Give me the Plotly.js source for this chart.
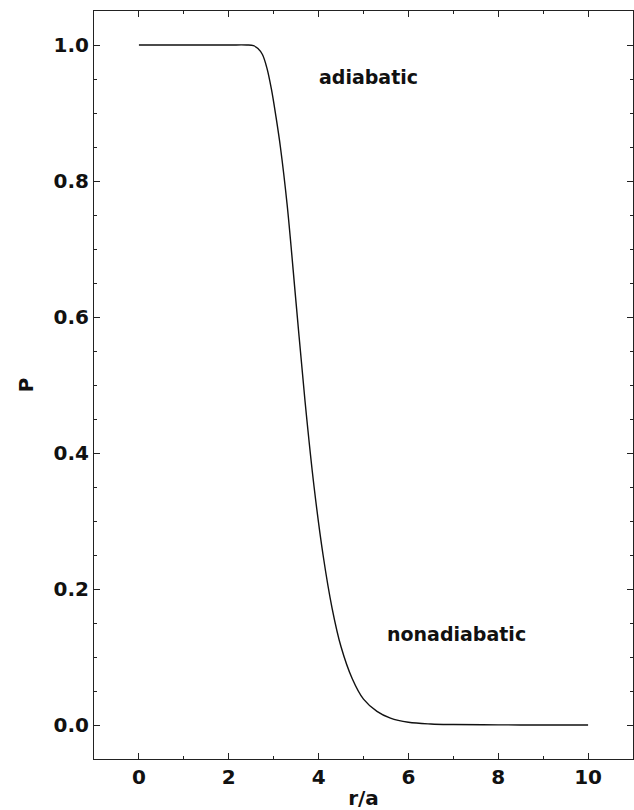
<!DOCTYPE html>
<html>
<head>
<meta charset="utf-8">
<script src="https://cdn.plot.ly/plotly-3.0.1.min.js"></script>
<style>html,body{margin:0;padding:0;background:#fff;}#chart{width:634px;height:810px;}</style>
</head>
<body>
<div id="chart"></div>
<script>
// Data
const rValues = [0, 1, 2, 2.4, 2.55, 2.65, 2.75, 2.85, 2.95, 3.05, 3.15, 3.3, 3.5, 3.7, 3.9, 4.1, 4.3, 4.5, 4.75, 5.0, 5.3, 5.6, 6.0, 6.5, 7, 8, 9, 10];
const pValues = [1, 1, 1, 1, 0.999, 0.995, 0.986, 0.966, 0.935, 0.895, 0.85, 0.765, 0.62, 0.475, 0.35, 0.25, 0.172, 0.115, 0.068, 0.038, 0.02, 0.01, 0.004, 0.0015, 0.0007, 0.0002, 0, 0];
const xTickVals = [0, 2, 4, 6, 8, 10];
const yTickVals = [0.0, 0.2, 0.4, 0.6, 0.8, 1.0];
const yTickText = ["0.0", "0.2", "0.4", "0.6", "0.8", "1.0"];
const labelTexts = ["adiabatic", "nonadiabatic"];
const labelR = [5.12, 7.06];
const labelP = [0.953, 0.134];

const font = "DejaVu Sans, Arial, sans-serif";

const trace = {
  x: rValues, y: pValues, type: 'scatter', mode: 'lines',
  line: {color: '#111', width: 1.4, shape: 'spline', smoothing: 1},
  hoverinfo: 'skip'
};

const axisCommon = {
  showgrid: false, zeroline: false, showline: true, linecolor: '#222', linewidth: 1,
  mirror: 'allticks', ticks: 'inside', ticklen: 6, tickwidth: 1, tickcolor: '#222',
  tickfont: {family: font, size: 20, color: '#111', weight: 'bold'}
};

const layout = {
  width: 634, height: 810,
  margin: {l: 94, r: 1, t: 11, b: 51},
  paper_bgcolor: '#fff', plot_bgcolor: '#fff',
  showlegend: false,
  xaxis: Object.assign({}, axisCommon, {
    range: [-1, 11], tickvals: xTickVals, ticktext: xTickVals.map(String),
    minor: {dtick: 1, ticks: 'inside', ticklen: 3, tickcolor: '#222', tickwidth: 1},
    title: {text: 'r/a', font: {family: font, size: 20, color: '#111', weight: 'bold'}, standoff: 9},
    automargin: false
  }),
  yaxis: Object.assign({}, axisCommon, {
    range: [-0.05, 1.05], tickvals: yTickVals, ticktext: yTickText,
    minor: {dtick: 0.05, ticks: 'inside', ticklen: 3, tickcolor: '#222', tickwidth: 1},
    title: {text: 'P', font: {family: font, size: 20, color: '#111', weight: 'bold'}, standoff: 14},
    automargin: false
  }),
  annotations: labelTexts.map((t, i) => ({
    x: labelR[i], y: labelP[i], xref: 'x', yref: 'y', text: t, showarrow: false,
    font: {family: font, size: 19, color: '#111', weight: 'bold'}
  }))
};

Plotly.newPlot('chart', [trace], layout, {staticPlot: true, displayModeBar: false});
</script>
</body>
</html>
